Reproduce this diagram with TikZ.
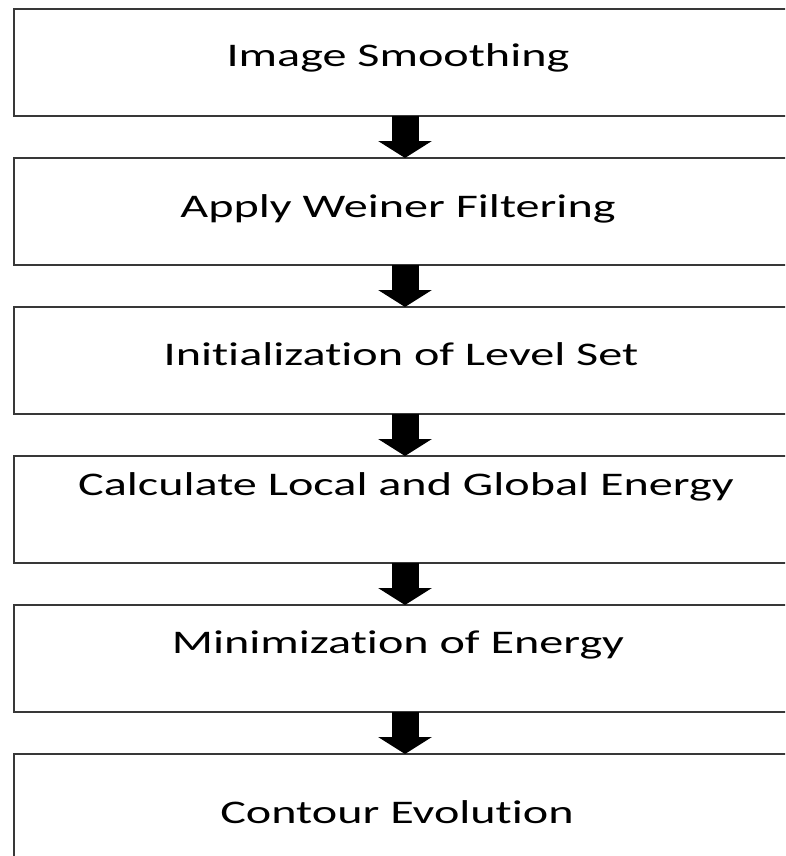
\documentclass[tikz,border=0pt]{standalone}
\usepackage{fontspec}
\setmainfont[Ligatures={NoCommon,NoContextual},RawFeature={-liga;-clig;-dlig;-calt}]{Carlito}
\usetikzlibrary{arrows.meta}
\newcommand\nolti{t\kern0pt i}
\begin{document}
\begin{tikzpicture}[x=1pt,y=-1pt,
  stagebox/.style={rectangle,minimum width=866pt,minimum height=107pt,inner sep=0pt,outer sep=0pt},
  boxline/.style={draw=black!78,line width=2pt},
  stagetext/.style={anchor=base,inner sep=0pt,font=\fontsize{33}{40}\selectfont},
  flowarrow/.style={line width=27pt,line cap=butt,-{Triangle[width=53pt,length=17pt]}}]
\useasboundingbox (0,0) rectangle (785,856);
\clip (0,0) rectangle (785,856);
\fill[white] (0,0) rectangle (785,856);
\coordinate (ax) at (405,0);
\node[stagebox] (b1) at (447,62.5) {};
\node[stagebox] (b2) at (447,211.5) {};
\node[stagebox] (b3) at (447,360.5) {};
\node[stagebox] (b4) at (447,509.5) {};
\node[stagebox] (b5) at (447,658.5) {};
\node[stagebox] (b6) at (447,807.5) {};
\foreach \b in {b1,b2,b3,b4,b5,b6}
  \draw[boxline] (\b.north east) -- (\b.north west) -- (\b.south west) -- (\b.south east);
\node[stagetext] (t1) at (398,67) {\scalebox{1.46}[1]{Image Smoothing}};
\node[stagetext] (t2) at (398,217) {\scalebox{1.46}[1]{Apply Weiner Filtering}};
\node[stagetext] (t3) at (401,365) {\scalebox{1.46}[1]{Ini\nolti aliza\nolti on of Level Set}};
\node[stagetext] (t4) at (406,495) {\scalebox{1.46}[1]{Calculate Local and Global Energy}};
\node[stagetext] (t5) at (398,653) {\scalebox{1.46}[1]{Minimiza\nolti on of Energy}};
\node[stagetext] (t6) at (397,823) {\scalebox{1.46}[1]{Contour Evolu\nolti on}};
\draw[flowarrow] (b1.south -| ax) -- (b2.north -| ax);
\draw[flowarrow] (b2.south -| ax) -- (b3.north -| ax);
\draw[flowarrow] (b3.south -| ax) -- (b4.north -| ax);
\draw[flowarrow] (b4.south -| ax) -- (b5.north -| ax);
\draw[flowarrow] (b5.south -| ax) -- (b6.north -| ax);
\end{tikzpicture}
\end{document}
